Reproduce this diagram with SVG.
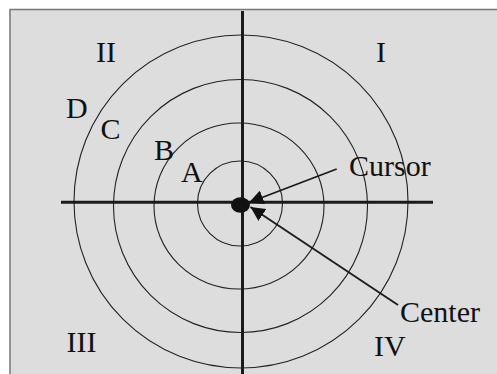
<svg xmlns="http://www.w3.org/2000/svg" width="497" height="374" viewBox="0 0 497 374">
<style>
.ring{fill:none;stroke:#222;stroke-width:1.1}
.axis{stroke:#1a1a1a;stroke-width:3}
.lead{stroke:#1a1a1a;stroke-width:1.8;fill:none}
.lbl{font-family:"Liberation Serif","Times New Roman",serif;font-size:30px;fill:#111}
</style>
<defs>
<marker id="ah" viewBox="0 0 10 10" refX="10" refY="5" markerWidth="8" markerHeight="8" markerUnits="strokeWidth" orient="auto">
<path d="M0,0 L10,5 L0,10 z" fill="#111"/>
</marker>
</defs>
<rect x="10" y="9.5" width="495" height="380" fill="#dddddd" stroke="#777" stroke-width="1.5"/>
<g id="rings">
<ellipse id="ring-A" class="ring" cx="240" cy="203.5" rx="42.5" ry="42.5"/>
<ellipse id="ring-B" class="ring" cx="239" cy="206" rx="85" ry="83"/>
<ellipse id="ring-C" class="ring" cx="240.5" cy="206" rx="127" ry="126.5"/>
<ellipse id="ring-D" class="ring" cx="241" cy="201.5" rx="167" ry="166.5"/>
</g>
<g id="axes">
<line class="axis" x1="61" y1="202.3" x2="433" y2="202.3"/>
<line class="axis" x1="242.5" y1="11" x2="242.5" y2="374"/>
</g>
<g id="dot"><ellipse cx="240.5" cy="205" rx="9.5" ry="7.7" fill="#111"/></g>
<g id="connectors">
<line class="lead" x1="336.7" y1="169" x2="249" y2="202.5" marker-end="url(#ah)"/>
<line class="lead" x1="398" y1="305" x2="250.5" y2="207" marker-end="url(#ah)"/>
</g>
<g id="labels">
<text class="lbl" x="96" y="62">II</text>
<text class="lbl" x="376" y="62">I</text>
<text class="lbl" x="66" y="117.5">D</text>
<text class="lbl" x="100.5" y="138.5">C</text>
<text class="lbl" x="154" y="160">B</text>
<text class="lbl" x="181" y="181.7">A</text>
<text class="lbl" x="349" y="176">Cursor</text>
<text class="lbl" x="400" y="321.5">Center</text>
<text class="lbl" x="66.5" y="351.7">III</text>
<text class="lbl" x="374" y="355.7">IV</text>
</g>
</svg>
